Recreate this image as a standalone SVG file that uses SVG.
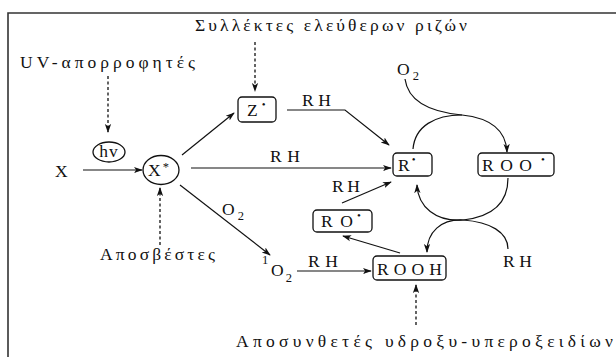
<svg xmlns="http://www.w3.org/2000/svg" width="616" height="357" viewBox="0 0 616 357" font-family="Liberation Serif, DejaVu Serif, Times New Roman, serif">
  <style>
    text { font-family: "Liberation Serif", "DejaVu Serif", serif; font-size: 17.5px; fill: #111; }
    .lbl { letter-spacing: 1px; }
    .sub { font-size: 12.5px; }
    .dot { font-size: 11px; }
    .box { fill: #fff; stroke: #111; stroke-width: 1.3; }
    .ell { fill: #fff; stroke: #111; stroke-width: 1.3; }
    .ln { fill: none; stroke: #111; stroke-width: 1.2; }
    .dash { fill: none; stroke: #111; stroke-width: 1.3; stroke-dasharray: 3 2.5; }
    .frame { fill: none; stroke: #333; stroke-width: 1.6; }
  </style>
  <defs>
    <marker id="ah" viewBox="0 0 10 10" refX="9" refY="5" markerWidth="9" markerHeight="9" markerUnits="userSpaceOnUse" orient="auto">
      <path d="M0,1.5 L10,5 L0,8.5 L2.5,5 Z" fill="#111"/>
    </marker>
  </defs>

  <rect width="616" height="357" fill="#fff"/>

  <!-- frame (top and left edges) -->
  <path class="frame" d="M8,357 V13 H616"/>

  <!-- connectors -->
  <g id="connectors">
    <!-- inhibitor inputs (dashed) -->
    <line class="dash" x1="108" y1="76" x2="108" y2="132" marker-end="url(#ah)"/>
    <line class="dash" x1="255" y1="42" x2="255" y2="91" marker-end="url(#ah)"/>
    <line class="dash" x1="160" y1="245" x2="160" y2="188" marker-end="url(#ah)"/>
    <line class="dash" x1="416" y1="325" x2="416" y2="285" marker-end="url(#ah)"/>

    <!-- X -> X* -->
    <line class="ln" x1="83" y1="170" x2="142" y2="170" marker-end="url(#ah)"/>
    <!-- X* -> Z -->
    <line class="ln" x1="182" y1="155" x2="234" y2="113" marker-end="url(#ah)"/>
    <!-- X* -> R (RH) -->
    <line class="ln" x1="191" y1="168" x2="391" y2="168" marker-end="url(#ah)"/>
    <!-- X* -> singlet O2 -->
    <line class="ln" x1="180" y1="185" x2="270" y2="255" marker-end="url(#ah)"/>
    <!-- Z -> R (RH) -->
    <polyline class="ln" points="287,110 345,110 389,145" marker-end="url(#ah)"/>
    <!-- singlet O2 -> ROOH (RH) -->
    <line class="ln" x1="297" y1="271" x2="371" y2="271" marker-end="url(#ah)"/>
    <!-- RO -> R (RH) -->
    <line class="ln" x1="342" y1="203" x2="391" y2="182" marker-end="url(#ah)"/>
    <!-- ROOH -> RO -->
    <line class="ln" x1="400" y1="253" x2="343" y2="236" marker-end="url(#ah)"/>

    <!-- upper cycle: R + O2 -> ROO -->
    <path class="ln" d="M405,79 C408,101 430,112 462,115 C490,118 506,130 507,152" marker-end="url(#ah)"/>
    <path class="ln" d="M413,149 C415,126 435,115 462,115"/>
    <!-- lower cycle: ROO + RH -> R + ROOH -->
    <path class="ln" d="M508,178 C508,205 490,217 463,220 C436,222 418,207 417,185" marker-end="url(#ah)"/>
    <path class="ln" d="M508,249 C508,232 490,222 463,220 C441,219 427,232 427,252" marker-end="url(#ah)"/>
  </g>

  <!-- free labels -->
  <g id="label-scavengers"><text x="195" y="31" textLength="272" lengthAdjust="spacing">Συλλέκτες ελεύθερων ριζών</text></g>
  <g id="label-uv"><text x="20" y="68" textLength="175" lengthAdjust="spacing">UV-απορροφητές</text></g>
  <g id="label-quenchers"><text x="100" y="260" textLength="115" lengthAdjust="spacing">Αποσβέστες</text></g>
  <g id="label-decomposers"><text x="236" y="347" textLength="377" lengthAdjust="spacing">Αποσυνθετές υδροξυ-υπεροξειδίων</text></g>

  <g id="label-rh1"><text x="302" y="106" textLength="29" lengthAdjust="spacing">RH</text></g>
  <g id="label-rh2"><text x="270" y="162" textLength="30" lengthAdjust="spacing">RH</text></g>
  <g id="label-rh3"><text x="332" y="192" textLength="28" lengthAdjust="spacing">RH</text></g>
  <g id="label-rh4"><text x="308" y="267" textLength="30" lengthAdjust="spacing">RH</text></g>
  <g id="label-rh5"><text x="503" y="267" textLength="29" lengthAdjust="spacing">RH</text></g>

  <g id="label-o2-top"><text x="397" y="75">O<tspan class="sub" dx="3" dy="5">2</tspan></text></g>
  <g id="label-o2-mid"><text x="222" y="215">O<tspan class="sub" dx="3" dy="5">2</tspan></text></g>

  <!-- nodes -->
  <g id="node-x"><text x="55" y="177">X</text></g>

  <g id="node-hv">
    <ellipse class="ell" cx="109" cy="152" rx="16" ry="10"/>
    <text x="109" y="157" text-anchor="middle" class="lbl">hv</text>
  </g>

  <g id="node-xstar">
    <ellipse class="ell" cx="161" cy="170" rx="18" ry="14.5"/>
    <text x="148" y="176">X<tspan class="sub" dx="2" dy="-5">*</tspan></text>
  </g>

  <g id="node-z">
    <rect class="box" x="238" y="97" width="38" height="25" rx="4"/>
    <text x="247" y="116">Z<tspan class="dot" dx="4" dy="-8">•</tspan></text>
  </g>

  <g id="node-r">
    <rect class="box" x="393" y="153" width="39" height="23" rx="4"/>
    <text x="398" y="171">R<tspan class="dot" dx="2" dy="-8">•</tspan></text>
  </g>

  <g id="node-roo">
    <rect class="box" x="478" y="153" width="76" height="23" rx="4"/>
    <text x="482" y="171" textLength="50" lengthAdjust="spacing">ROO</text>
    <text x="541" y="163" class="dot">•</text>
  </g>

  <g id="node-ro">
    <rect class="box" x="313" y="210" width="59" height="22" rx="4"/>
    <text x="321" y="227" textLength="32" lengthAdjust="spacing">RO</text>
    <text x="357" y="219" class="dot">•</text>
  </g>

  <g id="node-singlet-o2">
    <text x="262" y="264" class="sub">1</text>
    <text x="271" y="276">O<tspan class="sub" dx="2" dy="6">2</tspan></text>
  </g>

  <g id="node-rooh">
    <rect class="box" x="373" y="256" width="73" height="24" rx="4"/>
    <text x="377" y="275" textLength="65" lengthAdjust="spacing">ROOH</text>
  </g>
</svg>
